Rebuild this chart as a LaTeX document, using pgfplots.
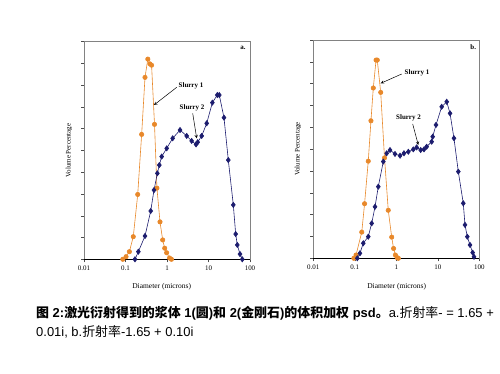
\documentclass[border=0pt]{standalone}
\usepackage{pgfplots}
\pgfplotsset{compat=1.18}
\usepackage{fontspec}
\setmainfont{Liberation Serif}
\newfontfamily\cjk{Noto Sans CJK SC}
\newfontfamily\arial{Liberation Sans}
\definecolor{slorange}{RGB}{232,136,42}
\definecolor{slblue}{RGB}{28,28,110}
\definecolor{framegray}{RGB}{130,130,130}

\pgfplotstableread{
x y
0.086 0
0.103 0.12
0.124 0.35
0.154 1.04
0.197 2.98
0.245 5.74
0.295 8.36
0.345 9.2
0.388 8.98
0.425 8.92
0.500 6.2
0.572 3.27
0.678 1.72
0.787 0.89
0.88 0.51
0.98 0.3
1.15 0.06
1.28 0
}\aorange

\pgfplotstableread{
x y
0.169 0
0.204 0.35
0.295 1.07
0.405 2.22
0.486 3.18
0.585 3.95
0.653 4.33
0.745 4.72
0.984 5.1
1.37 5.56
2.06 5.94
2.98 5.67
3.93 5.44
5.0 5.28
5.48 5.38
6.85 5.67
9.05 6.25
12.4 7.2
16.3 7.55
18.2 7.55
23.6 6.51
30.0 4.56
39.6 2.5
45.2 1.16
49.4 0.66
57.4 0.24
65.2 0
}\ablue

\pgfplotstableread{
x y
0.095 0
0.107 0.15
0.147 1.2
0.172 2.5
0.211 4.45
0.245 6.3
0.279 7.8
0.325 9.08
0.348 9.08
0.421 7.6
0.52 4.6
0.64 2.2
0.775 0.97
0.86 0.45
0.95 0.15
1.05 0.03
1.12 0
}\borange

\pgfplotstableread{
x y
0.115 0
0.133 0.23
0.160 0.69
0.211 0.99
0.255 1.6
0.307 2.36
0.368 3.28
0.486 4.43
0.587 4.81
0.705 4.96
0.93 4.78
1.23 4.7
1.53 4.81
1.95 4.88
2.57 4.99
3.09 5.08
3.87 4.96
4.65 4.99
5.38 5.11
7.12 5.34
7.53 5.57
9.05 6.11
12.4 6.94
16.4 7.17
19.7 6.64
24.5 5.5
31.2 3.97
41.1 2.52
45.2 1.53
51.4 0.99
59.7 0.61
69.3 0.26
74.5 0.07
}\bblue

\begin{document}
\begin{tikzpicture}
\useasboundingbox (0bp,0bp) rectangle (500bp,374bp);

% panel a
\begin{axis}[
    scale only axis,
    anchor=south west,
    at={(84bp,114.7bp)}, width=166bp, height=217.6bp,
    xmode=log,
    xmin=0.01, xmax=100,
    ymin=0, ymax=10,
    xtick={0.01,0.1,1,10,100},
    xticklabels={0.01,0.1,1,10,100},
    ytick={0,1,...,10},
    yticklabels={},
    xminorticks=false,
    tick align=outside,
    xtick pos=bottom,
    ytick pos=left,
    major tick length=3bp,
    tick style={black!70, line width=0.5bp},
    axis line style={framegray, line width=0.6bp},
    /pgf/number format/assume math mode=true,
    ticklabel style={font=\fontsize{7}{8}\selectfont},
    clip=false,
]
\addplot[slorange, line width=0.6bp, mark=*, mark size=2.2bp, mark options={fill=slorange, draw=slorange}] table {\aorange};
\addplot[slblue, line width=0.6bp, mark=diamond*, mark size=2.6bp, mark options={fill=slblue, draw=slblue}] table {\ablue};
\draw[black, line width=0.7bp] (rel axis cs:0,0) -- (rel axis cs:1,0);
\end{axis}

% panel b
\begin{axis}[
    scale only axis,
    anchor=south west,
    at={(313.3bp,115.7bp)}, width=166bp, height=218.3bp,
    xmode=log,
    xmin=0.01, xmax=100,
    ymin=0, ymax=10,
    xtick={0.01,0.1,1,10,100},
    xticklabels={0.01,0.1,1,10,100},
    ytick={0,1,...,10},
    yticklabels={},
    xminorticks=false,
    tick align=outside,
    xtick pos=bottom,
    ytick pos=left,
    major tick length=3bp,
    tick style={black!70, line width=0.5bp},
    axis line style={framegray, line width=0.6bp},
    /pgf/number format/assume math mode=true,
    ticklabel style={font=\fontsize{7}{8}\selectfont},
    clip=false,
]
\addplot[slorange, line width=0.6bp, mark=*, mark size=2.2bp, mark options={fill=slorange, draw=slorange}] table {\borange};
\addplot[slblue, line width=0.6bp, mark=diamond*, mark size=2.6bp, mark options={fill=slblue, draw=slblue}] table {\bblue};
\draw[black, line width=0.7bp] (rel axis cs:0,0) -- (rel axis cs:1,0);
\end{axis}

\begin{scope}[x=1bp,y=1bp]
% axis labels
\node[rotate=90, font=\fontsize{7}{8}\selectfont] at (69,223.5) {Volume Percentage};
\node[rotate=90, font=\fontsize{7}{8}\selectfont] at (298,225) {Volume Percentage};
\node[font=\fontsize{7.5}{8}\selectfont] at (161.7,87.3) {Diameter (microns)};
\node[font=\fontsize{7.5}{8}\selectfont] at (396.7,87.3) {Diameter (microns)};

% annotations a
\node[font=\bfseries\fontsize{7}{8}\selectfont] at (191,288) {Slurry 1};
\draw[-stealth, line width=0.5bp] (176.7,286.7) -- (154,269);
\node[font=\bfseries\fontsize{7}{8}\selectfont] at (192,266.3) {Slurry 2};
\draw[-stealth, line width=0.5bp] (192.7,260.7) -- (196.7,235.7);
\node[font=\bfseries\fontsize{7}{8}\selectfont] at (243,326) {a.};

% annotations b
\node[font=\bfseries\fontsize{7}{8}\selectfont] at (417,301.3) {Slurry 1};
\draw[-stealth, line width=0.5bp] (401.7,300) -- (380.7,290.7);
\node[font=\bfseries\fontsize{7}{8}\selectfont] at (408.5,255.7) {Slurry 2};
\draw[-stealth, line width=0.5bp] (412.7,250) -- (418.3,229);
\node[font=\bfseries\fontsize{7}{8}\selectfont] at (473.3,327.3) {b.};

% caption
\node[anchor=base west, inner sep=0pt, font=\arial\fontsize{13}{15}\selectfont] at (36,57)
  {\bfseries{\cjk 图} 2:{\cjk 激光衍射得到的浆体} 1({\cjk 圆}){\cjk 和} 2({\cjk 金刚石}){\cjk 的体积加权} psd{\cjk 。}\mdseries a.{\cjk 折射率}- = 1.65 +};
\node[anchor=base west, inner sep=0pt, font=\arial\fontsize{13}{15}\selectfont] at (36,38)
  {0.01i, b.{\cjk 折射率}-1.65 + 0.10i};
\end{scope}
\end{tikzpicture}
\end{document}
